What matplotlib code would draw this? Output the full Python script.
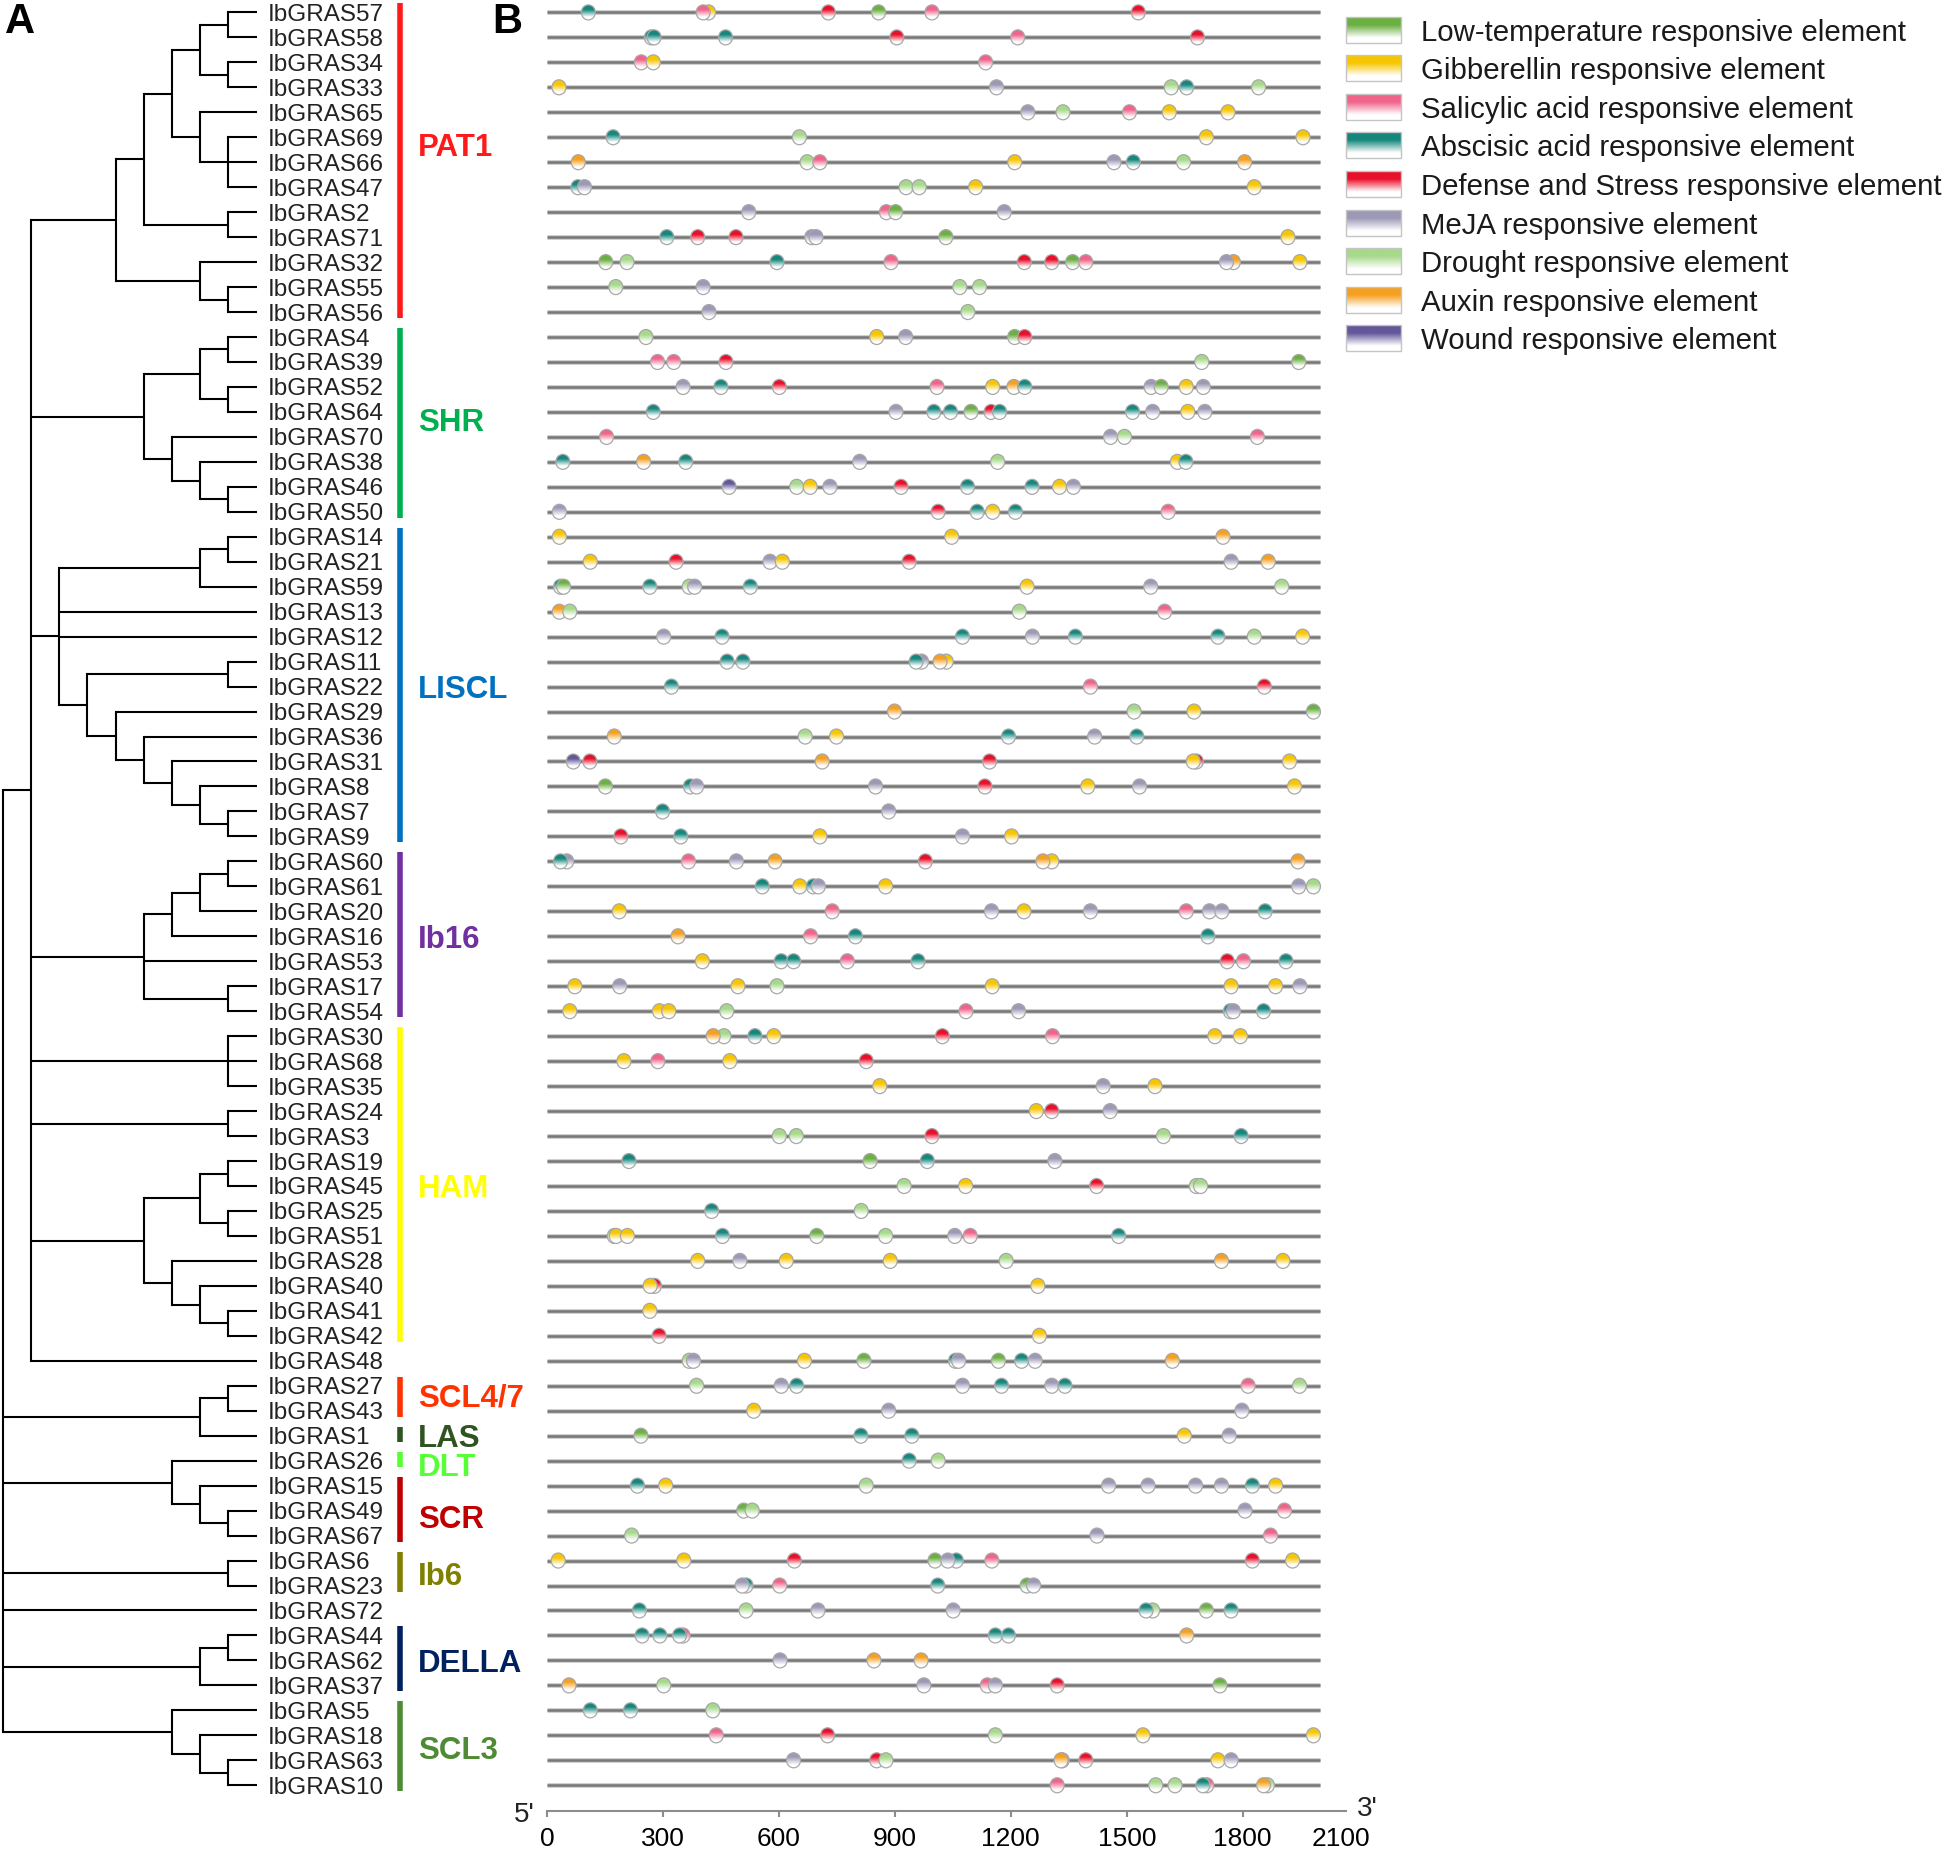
import numpy as np
import matplotlib
matplotlib.use("Agg")
import matplotlib.pyplot as plt
from matplotlib.patches import Ellipse, Rectangle
from matplotlib.colors import to_rgb

plt.rcParams['font.family'] = ['Liberation Sans', 'DejaVu Sans']

#########################
######### DATA
#########################

genes = ['IbGRAS57', 'IbGRAS58', 'IbGRAS34', 'IbGRAS33', 'IbGRAS65', 'IbGRAS69', 'IbGRAS66', 'IbGRAS47',
         'IbGRAS2', 'IbGRAS71', 'IbGRAS32', 'IbGRAS55', 'IbGRAS56', 'IbGRAS4', 'IbGRAS39', 'IbGRAS52',
         'IbGRAS64', 'IbGRAS70', 'IbGRAS38', 'IbGRAS46', 'IbGRAS50', 'IbGRAS14', 'IbGRAS21', 'IbGRAS59',
         'IbGRAS13', 'IbGRAS12', 'IbGRAS11', 'IbGRAS22', 'IbGRAS29', 'IbGRAS36', 'IbGRAS31', 'IbGRAS8',
         'IbGRAS7', 'IbGRAS9', 'IbGRAS60', 'IbGRAS61', 'IbGRAS20', 'IbGRAS16', 'IbGRAS53', 'IbGRAS17',
         'IbGRAS54', 'IbGRAS30', 'IbGRAS68', 'IbGRAS35', 'IbGRAS24', 'IbGRAS3', 'IbGRAS19', 'IbGRAS45',
         'IbGRAS25', 'IbGRAS51', 'IbGRAS28', 'IbGRAS40', 'IbGRAS41', 'IbGRAS42', 'IbGRAS48', 'IbGRAS27',
         'IbGRAS43', 'IbGRAS1', 'IbGRAS26', 'IbGRAS15', 'IbGRAS49', 'IbGRAS67', 'IbGRAS6', 'IbGRAS23',
         'IbGRAS72', 'IbGRAS44', 'IbGRAS62', 'IbGRAS37', 'IbGRAS5', 'IbGRAS18', 'IbGRAS63', 'IbGRAS10']

# cladogram topology (gene numbers), tips aligned
tree = [
    [
        [[[[[57, 58], [34, 33]], [65, [69, 66, 47]]], [2, 71]], [32, [55, 56]]],
        [[[4, 39], [52, 64]], [70, [38, [46, 50]]]],
        [[[14, 21], 59], 13, 12, [[11, 22], [29, [36, [31, [8, [7, 9]]]]]]],
        [[[[60, 61], 20], 16], 53, [17, 54]],
        [30, 68, 35],
        [24, 3],
        [[[19, 45], [25, 51]], [28, [40, [41, 42]]]],
        48,
    ],
    [[27, 43], 1],
    [26, [15, [49, 67]]],
    [6, 23],
    72,
    [[44, 62], 37],
    [5, [18, [63, 10]]],
]

clades = ['PAT1', 'SHR', 'LISCL', 'Ib16', 'HAM', 'SCL4/7', 'LAS', 'DLT', 'SCR', 'Ib6', 'DELLA', 'SCL3']
clade_first = ['IbGRAS57', 'IbGRAS4', 'IbGRAS14', 'IbGRAS60', 'IbGRAS30', 'IbGRAS27', 'IbGRAS1',
               'IbGRAS26', 'IbGRAS15', 'IbGRAS6', 'IbGRAS44', 'IbGRAS5']
clade_last = ['IbGRAS56', 'IbGRAS50', 'IbGRAS9', 'IbGRAS54', 'IbGRAS42', 'IbGRAS43', 'IbGRAS1',
              'IbGRAS26', 'IbGRAS67', 'IbGRAS23', 'IbGRAS37', 'IbGRAS10']
clade_colors = ['#ff1a1a', '#00b050', '#0070c0', '#7030a0', '#ffff00', '#ff3300', '#2f5421',
                '#55ff33', '#c00000', '#808000', '#002060', '#4f8a35']

element_names = ['Low-temperature responsive element', 'Gibberellin responsive element',
                 'Salicylic acid responsive element', 'Abscisic acid responsive element',
                 'Defense and Stress responsive element', 'MeJA responsive element',
                 'Drought responsive element', 'Auxin responsive element', 'Wound responsive element']
element_codes = ['LT', 'GA', 'SA', 'ABA', 'DS', 'MJ', 'DR', 'AUX', 'WD']
element_colors = ['#6cb043', '#f7c600', '#f0648a', '#16877d', '#e8102a', '#9c99b6', '#a6d98a',
                  '#f5a020', '#64579a']

# cis-elements per promoter (type, position in bp), same order as genes
sites = [
    [("ABA", 107), ("GA", 418), ("SA", 404), ("DS", 728), ("LT", 858), ("SA", 996), ("DS", 1530)],  # 57
    [("ABA", 270), ("ABA", 277), ("ABA", 462), ("DS", 905), ("SA", 1218), ("DS", 1683)],  # 58
    [("SA", 244), ("GA", 275), ("SA", 1135)],  # 34
    [("GA", 31), ("MJ", 1163), ("DR", 1615), ("ABA", 1655), ("DR", 1841)],  # 33
    [("MJ", 1244), ("DR", 1335), ("SA", 1507), ("GA", 1610), ("GA", 1762)],  # 65
    [("ABA", 171), ("DR", 653), ("GA", 1706), ("GA", 1956)],  # 69
    [("AUX", 81), ("DR", 673), ("SA", 706), ("GA", 1210), ("MJ", 1467), ("ABA", 1517), ("DR", 1647), ("AUX", 1805)],  # 66
    [("ABA", 80), ("MJ", 97), ("DR", 929), ("DR", 963), ("GA", 1109), ("GA", 1830)],  # 47
    [("MJ", 522), ("SA", 878), ("LT", 902), ("MJ", 1183)],  # 2
    [("ABA", 310), ("DS", 390), ("DS", 489), ("MJ", 685), ("MJ", 696), ("LT", 1032), ("GA", 1917)],  # 71
    [("LT", 152), ("DR", 207), ("ABA", 595), ("SA", 890), ("DS", 1235), ("DS", 1306), ("LT", 1360), ("SA", 1394),
     ("AUX", 1776), ("MJ", 1758), ("GA", 1948)],  # 32
    [("DR", 178), ("MJ", 404), ("DR", 1068), ("DR", 1119)],  # 55
    [("MJ", 419), ("DR", 1089)],  # 56
    [("DR", 256), ("GA", 853), ("MJ", 928), ("LT", 1210), ("DS", 1236)],  # 4
    [("SA", 286), ("SA", 328), ("DS", 463), ("DR", 1694), ("LT", 1945)],  # 39
    [("MJ", 352), ("ABA", 450), ("DS", 601), ("SA", 1009), ("GA", 1153), ("AUX", 1208), ("ABA", 1236), ("MJ", 1563),
     ("LT", 1589), ("GA", 1654), ("MJ", 1698)],  # 52
    [("ABA", 275), ("MJ", 903), ("ABA", 1001), ("ABA", 1044), ("LT", 1097), ("DS", 1149), ("ABA", 1171), ("ABA", 1515),
     ("MJ", 1567), ("GA", 1658), ("MJ", 1702)],  # 64
    [("SA", 154), ("MJ", 1458), ("DR", 1494), ("SA", 1838)],  # 70
    [("ABA", 41), ("AUX", 250), ("ABA", 359), ("MJ", 809), ("DR", 1166), ("GA", 1631), ("ABA", 1653)],  # 38
    [("WD", 471), ("DR", 646), ("GA", 681), ("MJ", 732), ("DS", 916), ("ABA", 1088), ("ABA", 1255), ("GA", 1326),
     ("MJ", 1362)],  # 46
    [("MJ", 32), ("DS", 1012), ("ABA", 1113), ("GA", 1153), ("ABA", 1212), ("SA", 1607)],  # 50
    [("GA", 32), ("GA", 1047), ("AUX", 1749)],  # 14
    [("GA", 112), ("DS", 334), ("MJ", 577), ("GA", 609), ("DS", 937), ("MJ", 1770), ("AUX", 1866)],  # 21
    [("ABA", 35), ("LT", 43), ("ABA", 266), ("DR", 368), ("MJ", 382), ("ABA", 526), ("GA", 1242), ("MJ", 1562),
     ("DR", 1901)],  # 59
    [("AUX", 32), ("DR", 59), ("DR", 1222), ("SA", 1598)],  # 13
    [("MJ", 302), ("ABA", 453), ("ABA", 1075), ("MJ", 1256), ("ABA", 1367), ("ABA", 1736), ("DR", 1830), ("GA", 1955)],  # 12
    [("ABA", 466), ("ABA", 507), ("MJ", 969), ("ABA", 955), ("GA", 1033), ("AUX", 1017)],  # 11
    [("ABA", 322), ("SA", 1406), ("DS", 1856)],  # 22
    [("AUX", 899), ("DR", 1519), ("GA", 1674), ("LT", 1983)],  # 29
    [("AUX", 174), ("DR", 668), ("GA", 749), ("ABA", 1194), ("MJ", 1417), ("ABA", 1526)],  # 36
    [("WD", 68), ("DS", 111), ("AUX", 712), ("DS", 1145), ("DS", 1680), ("GA", 1672), ("GA", 1921)],  # 31
    [("LT", 151), ("ABA", 371), ("MJ", 387), ("MJ", 850), ("DS", 1133), ("GA", 1399), ("MJ", 1533), ("GA", 1934)],  # 8
    [("ABA", 299), ("MJ", 884)],  # 7
    [("DS", 191), ("ABA", 346), ("GA", 706), ("MJ", 1075), ("GA", 1202)],  # 9
    [("MJ", 51), ("ABA", 35), ("SA", 366), ("MJ", 490), ("AUX", 590), ("DS", 979), ("GA", 1306), ("AUX", 1283),
     ("AUX", 1943)],  # 60
    [("ABA", 557), ("GA", 654), ("ABA", 689), ("MJ", 702), ("GA", 876), ("MJ", 1945), ("DR", 1983)],  # 61
    [("GA", 187), ("SA", 738), ("MJ", 1150), ("GA", 1234), ("MJ", 1406), ("SA", 1654), ("MJ", 1714), ("MJ", 1746),
     ("ABA", 1858)],  # 20
    [("AUX", 339), ("SA", 682), ("ABA", 798), ("ABA", 1710)],  # 16
    [("GA", 402), ("ABA", 606), ("ABA", 638), ("SA", 777), ("ABA", 960), ("DS", 1760), ("SA", 1802), ("ABA", 1912)],  # 53
    [("GA", 72), ("MJ", 188), ("GA", 494), ("DR", 595), ("GA", 1152), ("GA", 1770), ("GA", 1885), ("MJ", 1948)],  # 17
    [("GA", 59), ("GA", 291), ("GA", 315), ("DR", 465), ("SA", 1084), ("MJ", 1220), ("ABA", 1768), ("MJ", 1776),
     ("ABA", 1854)],  # 54
    [("DR", 458), ("AUX", 430), ("ABA", 538), ("GA", 587), ("DS", 1023), ("SA", 1308), ("GA", 1728), ("GA", 1794)],  # 30
    [("GA", 199), ("SA", 287), ("GA", 473), ("DS", 826)],  # 68
    [("GA", 861), ("MJ", 1439), ("GA", 1573)],  # 35
    [("GA", 1266), ("DS", 1306), ("MJ", 1457)],  # 24
    [("DR", 601), ("DR", 645), ("DS", 996), ("DR", 1595), ("ABA", 1796)],  # 3
    [("ABA", 212), ("LT", 836), ("ABA", 984), ("MJ", 1314)],  # 19
    [("DR", 924), ("GA", 1083), ("DS", 1422), ("DR", 1680), ("DR", 1691)],  # 45
    [("ABA", 426), ("DR", 813)],  # 25
    [("DR", 174), ("GA", 179), ("GA", 208), ("ABA", 454), ("LT", 698), ("DR", 876), ("MJ", 1055), ("SA", 1095),
     ("ABA", 1479)],  # 51
    [("GA", 390), ("MJ", 499), ("GA", 619), ("GA", 888), ("DR", 1188), ("AUX", 1745), ("GA", 1904)],  # 28
    [("DS", 278), ("GA", 267), ("GA", 1270)],  # 40
    [("GA", 266)],  # 41
    [("DS", 290), ("GA", 1274)],  # 42
    [("DR", 368), ("MJ", 379), ("GA", 666), ("LT", 820), ("ABA", 1057), ("MJ", 1065), ("LT", 1168), ("ABA", 1228),
     ("MJ", 1263), ("AUX", 1618)],  # 48
    [("DR", 387), ("MJ", 606), ("ABA", 646), ("MJ", 1075), ("ABA", 1176), ("MJ", 1306), ("ABA", 1340), ("SA", 1814),
     ("DR", 1947)],  # 27
    [("GA", 535), ("MJ", 884), ("MJ", 1798)],  # 43
    [("LT", 243), ("ABA", 812), ("ABA", 944), ("GA", 1649), ("MJ", 1765)],  # 1
    [("ABA", 937), ("DR", 1012)],  # 26
    [("ABA", 234), ("GA", 307), ("DR", 826), ("MJ", 1453), ("MJ", 1555), ("MJ", 1678), ("MJ", 1745), ("ABA", 1825),
     ("GA", 1885)],  # 15
    [("LT", 509), ("DR", 531), ("MJ", 1806), ("SA", 1908)],  # 49
    [("DR", 219), ("MJ", 1423), ("SA", 1872)],  # 67
    [("GA", 29), ("GA", 354), ("DS", 640), ("LT", 1004), ("ABA", 1059), ("MJ", 1037), ("SA", 1151), ("DS", 1825),
     ("GA", 1929)],  # 6
    [("ABA", 515), ("MJ", 505), ("SA", 602), ("ABA", 1011), ("LT", 1242), ("MJ", 1259)],  # 23
    [("ABA", 239), ("DR", 515), ("MJ", 701), ("MJ", 1051), ("DR", 1567), ("ABA", 1550), ("LT", 1706), ("ABA", 1770)],  # 72
    [("ABA", 246), ("ABA", 292), ("SA", 352), ("ABA", 343), ("ABA", 1160), ("ABA", 1194), ("AUX", 1655)],  # 44
    [("MJ", 603), ("AUX", 846), ("AUX", 968)],  # 62
    [("AUX", 57), ("DR", 302), ("MJ", 975), ("SA", 1139), ("MJ", 1160), ("DS", 1320), ("LT", 1741)],  # 37
    [("ABA", 112), ("ABA", 216), ("DR", 429)],  # 5
    [("SA", 438), ("DS", 726), ("DR", 1160), ("GA", 1542), ("GA", 1983)],  # 18
    [("MJ", 638), ("DS", 853), ("DR", 877), ("ABA", 1333), ("AUX", 1330), ("DS", 1394), ("GA", 1736), ("MJ", 1770)],  # 63
    [("SA", 1320), ("DR", 1575), ("DR", 1625), ("SA", 1707), ("ABA", 1697), ("DR", 1864), ("AUX", 1854)],  # 10
]

promoter_len = 2000
tick_labels = ['0', '300', '600', '900', '1200', '1500', '1800', '2100']


#########################
######### LAYOUT (figure pixels)
#########################

W, H = 1944, 1854
row0_px, row_px = 12.4, 24.97            # y of first row, row spacing
b_left, b_zero_end = 547.0, 1320.0        # x of 0 bp and 2000 bp
bp_per_px = promoter_len / (b_zero_end - b_left)
axis_end = 2066
leaf_x, root_x = 256.5, 2.8
label_x, bar_x, clade_x = 268, 399.5, 418

ytop = (0 - row0_px) / row_px + 1
ybot = (H - row0_px) / row_px + 1

fig = plt.figure(figsize=(W / 100, H / 100), dpi=100)

ax_a = fig.add_axes([0, 0, 1, 1])
ax_a.set_xlim(0, W)
ax_a.set_ylim(ybot, ytop)
ax_a.axis('off')

ax_b = fig.add_axes([b_left / W, 0, axis_end / bp_per_px / W, 1])
ax_b.patch.set_visible(False)
ax_b.axis('off')

row_of = {g: i + 1 for i, g in enumerate(genes)}

#########################
######### TREE
#########################

step = (leaf_x - root_x) / 9.0


def draw_node(node):
    if not isinstance(node, list):
        return leaf_x, row_of['IbGRAS%d' % node], 0
    kids = [draw_node(c) for c in node]
    h = 1 + max(k[2] for k in kids)
    x = root_x + (9 - h) * step
    ys = [k[1] for k in kids]
    ax_a.plot([x, x], [ys[0], ys[-1]], color='black', lw=1.5, solid_capstyle='projecting')
    for kx, ky, _ in kids:
        ax_a.plot([x, kx], [ky, ky], color='black', lw=1.5, solid_capstyle='butt')
    return x, (ys[0] + ys[-1]) / 2.0, h


draw_node(tree)

for g in genes:
    ax_a.text(label_x, row_of[g], g, fontsize=17.5, color='#222222', va='center_baseline', ha='left')

label_shift = {'PAT1': -0.7, 'SHR': -0.2, 'SCL4/7': -0.13, 'DLT': 0.17, 'SCR': 0.25}
for name, first, last, col in zip(clades, clade_first, clade_last, clade_colors):
    r0, r1 = row_of[first], row_of[last]
    ax_a.plot([bar_x, bar_x], [r0 - 0.36, r1 + 0.24], color=col, lw=4, solid_capstyle='butt')
    ax_a.text(clade_x, (r0 + r1) / 2.0 + label_shift.get(name, 0), name, fontsize=22.5, fontweight='bold',
              color=col, va='center_baseline', ha='left')

#########################
######### PROMOTER ELEMENTS
#########################


def gradient(color, n=48):
    c = np.array(to_rgb(color))
    t = np.linspace(0, 1, n)
    f = np.clip((0.80 - t) / 0.50, 0, 1)
    rgb = f[:, None] * c + (1 - f[:, None]) * np.ones(3)
    return rgb[:, None, :]


grads = {code: gradient(col) for code, col in zip(element_codes, element_colors)}

ax_b.hlines(np.arange(1, len(genes) + 1), 0, promoter_len, color='#c9c9c9', lw=3.4, zorder=1)
ax_b.hlines(np.arange(1, len(genes) + 1), 0, promoter_len, color='#777777', lw=1.8, zorder=1)

cw = 14 * bp_per_px
ch = 15 / row_px
for r, row_sites in enumerate(sites, start=1):
    for code, pos in row_sites:
        im = ax_b.imshow(grads[code], extent=[pos - cw / 2, pos + cw / 2, r + ch / 2, r - ch / 2],
                         aspect='auto', interpolation='bilinear', zorder=3)
        e = Ellipse((pos, r), cw, ch, facecolor='none', edgecolor='#a8a8a8', lw=0.9, zorder=3)
        ax_b.add_patch(e)
        im.set_clip_path(e)

ax_b.set_xlim(0, axis_end)
ax_b.set_ylim(ybot, ytop)

#########################
######### SCALE AXIS
#########################

axis_y = 1811.0
ax_s = fig.add_axes([b_left / W, (H - axis_y) / H, axis_end / bp_per_px / W, 0.0005])
ax_s.set_xlim(0, axis_end)
for sp in ['top', 'left', 'right']:
    ax_s.spines[sp].set_visible(False)
ax_s.spines['bottom'].set_color('#8c8c8c')
ax_s.spines['bottom'].set_linewidth(1.5)
ax_s.set_yticks([])
tick_pos = [min(int(t), axis_end - 11) for t in tick_labels]
ax_s.set_xticks(tick_pos)
ax_s.set_xticklabels(tick_labels, fontsize=19)
ax_s.tick_params(axis='x', direction='out', length=4.5, width=1.5, color='#8c8c8c', pad=7)
ax_s.xaxis.get_major_ticks()[-1].tick1line.set_visible(False)
ax_s.patch.set_visible(False)

#########################
######### LEGEND, PANEL LETTERS
#########################

ax_l = fig.add_axes([0, 0, 1, 1])
ax_l.set_xlim(0, W)
ax_l.set_ylim(H, 0)
ax_l.axis('off')
ax_l.patch.set_visible(False)

ax_l.text(524, axis_y + 1, "5'", fontsize=20, ha='center', va='center_baseline', color='#222222')
ax_l.text(1367, axis_y - 5, "3'", fontsize=20, ha='center', va='center_baseline', color='#222222')

ax_l.text(5, 2, 'A', fontsize=30, fontweight='bold', ha='left', va='top')
ax_l.text(492, 2, 'B', fontsize=30, fontweight='bold', ha='left', va='top')

for k, (name, code) in enumerate(zip(element_names, element_codes)):
    yc = 29.5 + k * 38.6
    ax_l.imshow(grads[code], extent=[1346, 1401, yc + 13, yc - 13], aspect='auto', interpolation='bilinear', zorder=3)
    ax_l.add_patch(Rectangle((1346, yc - 13), 55, 26, facecolor='none', edgecolor='#c4c4c4', lw=1.0, zorder=4))
    ax_l.text(1421, yc, name, fontsize=21.2, color='#1a1a1a', va='center_baseline', ha='left')
ax_l.set_xlim(0, W)
ax_l.set_ylim(H, 0)

fig.savefig('out.png', dpi=100)
